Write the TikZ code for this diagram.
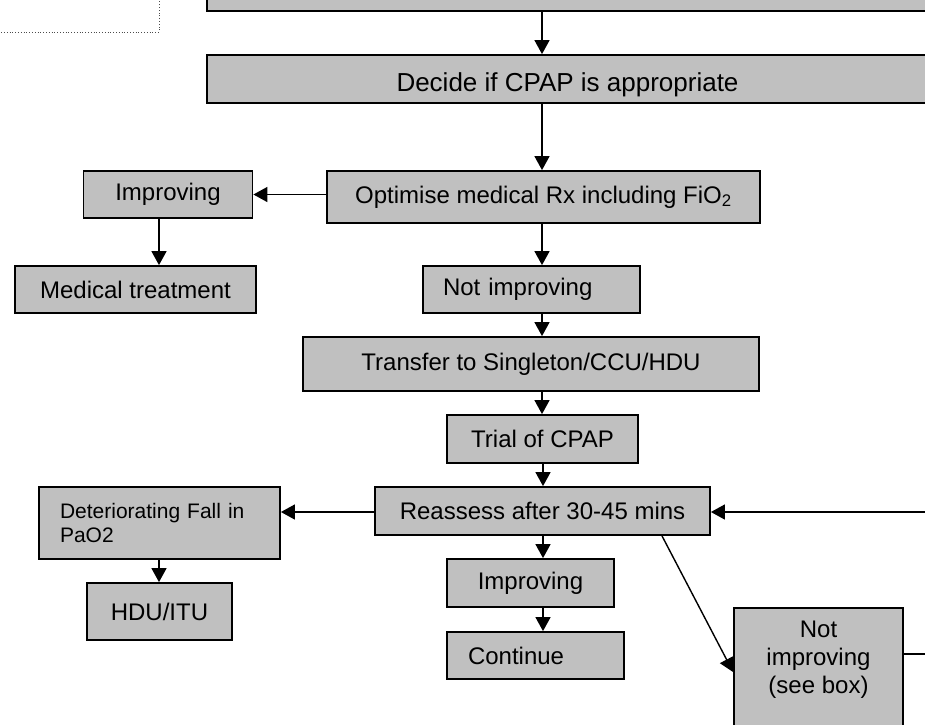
\documentclass[tikz,border=0pt]{standalone}
\usepackage{fontspec}
\setmainfont{Liberation Sans}
\usetikzlibrary{arrows.meta}
\definecolor{boxgray}{RGB}{192,192,192}
\begin{document}
\begin{tikzpicture}[x=1pt,y=-1pt,
  box/.style={draw=black, fill=boxgray, line width=1.8pt, inner sep=0pt,
    font=\fontsize{24}{28.8}\selectfont, align=center},
  lbox/.style={box, align=left},
  arr/.style={line width=1.4pt, -{Triangle[length=14pt,width=15pt]}},
  link/.style={line width=1.4pt}]
\useasboundingbox (0,0) rectangle (925,724);
\clip (0,0) rectangle (925,724);

% dotted frame in the corner
\draw[dotted, line width=0.8pt, black!70] (-10,-10) rectangle (159,32);

% boxes (centre x, centre y, width, height)
\node[box, minimum width=721, minimum height=61] (top) at (567.5,-19.5) {};
\node[box, minimum width=721, minimum height=48, text height=30pt, text depth=5.4pt,
      font=\fontsize{26}{31}\selectfont] (decide) at (567.5,79) {Decide if CPAP is appropriate};
\node[box, minimum width=433, minimum height=52] (optimise) at (543.5,197) {Optimise medical Rx including FiO\textsubscript{2}};
\node[box, minimum width=169, minimum height=47] (imp1) at (168,194.5) {Improving};
\node[box, minimum width=241, minimum height=47] (medtreat) at (135.5,289.5) {Medical treatment};
\node[lbox, minimum height=47, inner xsep=20pt, text width=177pt] (notimp1) at (531.5,289.5) {Not improving};
\node[box, minimum width=456, minimum height=54] (transfer) at (531,364) {Transfer to Singleton/CCU/HDU};
\node[box, minimum width=191, minimum height=48] (trial) at (542.5,439) {Trial of CPAP};
\node[box, minimum width=335, minimum height=48] (reassess) at (542.5,511) {Reassess after 30-45 mins};
\node[lbox, minimum height=72, inner xsep=21pt, text width=199pt, font=\fontsize{21}{23.5}\selectfont] (det) at (159.5,523) {Deteriorating Fall in\\PaO2};
\node[box, minimum width=145, minimum height=57] (hdu) at (159.5,611.5) {HDU/ITU};
\node[box, minimum width=167, minimum height=48] (imp2) at (530.5,583) {Improving};
\node[lbox, minimum height=47, inner xsep=21pt, text width=135pt] (cont) at (535.5,655.5) {Continue};
\node[box, minimum width=169, minimum height=150, anchor=north] (nib) at (818.5,607) {};
\node[align=center, anchor=north, inner sep=0pt, font=\fontsize{24}{28}\selectfont] (nibtext) at ([yshift=-14pt]nib.north) {Not\\improving\\(see box)};

% reference coordinates for connector positions
\coordinate (spine) at (542,0);
\coordinate (spineb) at (543,0);
\coordinate (leftcol) at (159,0);
\coordinate (diag) at (662,0);
\coordinate (diagend) at (0,672);
\coordinate (rin) at (935,512);
\coordinate (rout) at (935,654);

% main column
\draw[arr] (top.south -| spine) -- (decide.north -| spine);
\draw[arr] (decide.south -| spine) -- (optimise.north -| spine);
\draw[arr] (optimise.south -| spine) -- (notimp1.north -| spine);
\draw[arr] (notimp1.south -| spine) -- (transfer.north -| spine);
\draw[arr] (transfer.south -| spine) -- (trial.north -| spine);
\draw[arr] (trial.south -| spineb) -- (reassess.north -| spineb);
\draw[arr] (reassess.south -| spineb) -- (imp2.north -| spineb);
\draw[arr] (imp2.south -| spineb) -- (cont.north -| spineb);

% side branches
\draw[arr] (optimise.west |- imp1.east) -- (imp1.east);
\draw[arr] (imp1.south -| leftcol) -- (medtreat.north -| leftcol);
\draw[arr] (reassess.west |- 0,512) -- (det.east |- 0,512);
\draw[arr] (det.south -| leftcol) -- (hdu.north -| leftcol);
\draw[arr] (reassess.south -| diag) -- (nib.west |- diagend);
\draw[link] (nib.east |- rout) -- (rout);
\draw[arr] (rin) -- (reassess.east |- rin);
\end{tikzpicture}
\end{document}
